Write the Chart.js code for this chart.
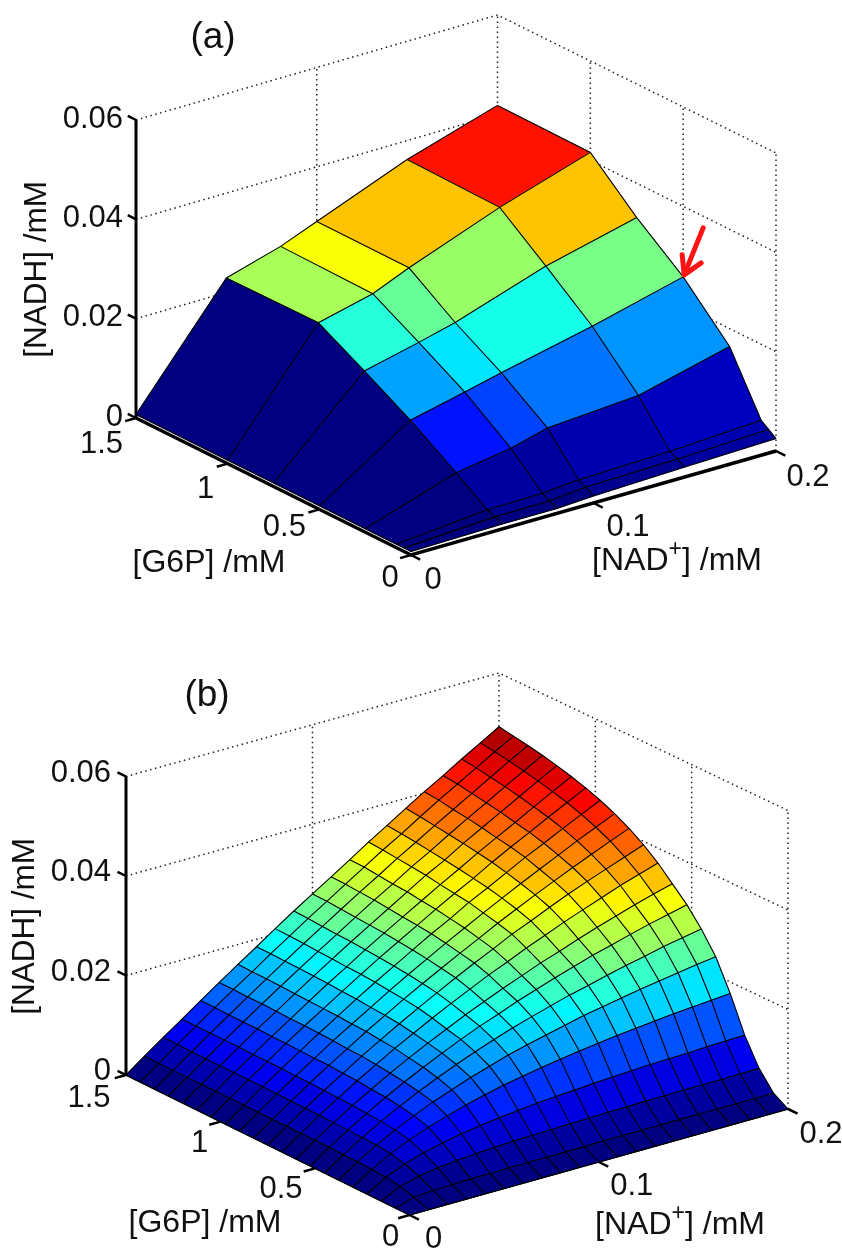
<!DOCTYPE html>
<html>
<head>
<meta charset="utf-8">
<title>NADH surfaces</title>
<script src="https://cdn.jsdelivr.net/npm/chart.js@4/dist/chart.umd.min.js"></script>
<style>
  body { margin:0; background:#fff; }
  canvas { display:block; }
</style>
</head>
<body>
<canvas id="panelA" width="842" height="625"></canvas>
<canvas id="panelB" width="842" height="624"></canvas>
<script>
const zTicks = [0, 0.02, 0.04, 0.06];
const g6pTicks = [0, 0.5, 1, 1.5];
const nadTicks = [0, 0.1, 0.2];

// panel (a): measured grid
const g6pA = [0, 0.04, 0.08, 0.25, 0.5, 0.75, 1, 1.5];
const nadA = [0, 0.05, 0.08, 0.1, 0.15, 0.2];
const nadhA = [
  [0.0007, 0.0010, 0.0010, 0.0014, 0.0020, 0.0025],
  [0.0007, 0.0017, 0.0018, 0.0025, 0.0029, 0.0036],
  [0.0007, 0.0024, 0.0026, 0.0032, 0.0037, 0.0047],
  [0.0007, 0.0067, 0.0085, 0.0105, 0.0118, 0.0164],
  [0.0007, 0.0127, 0.0152, 0.0170, 0.0211, 0.0258],
  [0.0007, 0.0180, 0.0206, 0.0225, 0.0286, 0.0331],
  [0.0007, 0.0231, 0.0258, 0.0289, 0.0358, 0.0416],
  [0.0007, 0.0229, 0.0261, 0.0290, 0.0362, 0.0418]
];

// panel (b): fine grid
const g6pB = [0, 0.075, 0.15, 0.225, 0.3, 0.375, 0.45, 0.525, 0.6, 0.675, 0.75, 0.825, 0.9, 0.975, 1.05, 1.125, 1.2, 1.275, 1.35, 1.425, 1.5];
const nadB = [0, 0.01, 0.02, 0.03, 0.04, 0.05, 0.06, 0.07, 0.08, 0.09, 0.1, 0.11, 0.12, 0.13, 0.14, 0.15, 0.16, 0.17, 0.18, 0.19, 0.2];
const nadhB = [
  [0,0,0,0,0,0,0,0,0,0,0,0,0,0,0,0,0,0,0,0,0],
  [0,.0011,.0014,.0015,.0016,.0016,.0017,.0017,.0017,.0017,.0017,.0018,.0018,.0018,.0018,.0018,.0018,.0018,.0018,.0018,.0018],
  [0,.0019,.0029,.0035,.0039,.0042,.0044,.0046,.0047,.0048,.0049,.0050,.0051,.0051,.0052,.0052,.0053,.0053,.0053,.0054,.0054],
  [0,.0023,.0039,.0051,.0060,.0068,.0074,.0079,.0083,.0087,.0090,.0092,.0095,.0097,.0099,.0101,.0102,.0103,.0105,.0106,.0107],
  [0,.0025,.0046,.0063,.0078,.0090,.0101,.0111,.0120,.0127,.0134,.0140,.0146,.0151,.0156,.0160,.0164,.0168,.0171,.0174,.0177],
  [0,.0026,.0049,.0069,.0087,.0104,.0118,.0132,.0144,.0156,.0166,.0175,.0184,.0193,.0200,.0207,.0214,.0220,.0226,.0232,.0237],
  [0,.0026,.0050,.0072,.0092,.0111,.0128,.0144,.0159,.0173,.0186,.0198,.0209,.0220,.0229,.0239,.0248,.0256,.0265,.0272,.0279],
  [0,.0027,.0051,.0074,.0096,.0116,.0135,.0153,.0170,.0186,.0200,.0215,.0228,.0241,.0253,.0265,.0275,.0286,.0296,.0305,.0314],
  [0,.0027,.0052,.0076,.0098,.0120,.0140,.0159,.0177,.0195,.0211,.0227,.0242,.0257,.0270,.0284,.0297,.0309,.0321,.0332,.0342],
  [0,.0027,.0053,.0077,.0101,.0123,.0145,.0165,.0185,.0204,.0222,.0240,.0256,.0273,.0288,.0304,.0318,.0332,.0346,.0358,.0370],
  [0,.0027,.0053,.0078,.0102,.0126,.0148,.0170,.0191,.0211,.0231,.0250,.0268,.0287,.0303,.0320,.0336,.0351,.0365,.0379,.0393],
  [0,.0027,.0053,.0079,.0104,.0127,.0151,.0173,.0195,.0216,.0236,.0256,.0275,.0295,.0313,.0331,.0348,.0365,.0381,.0397,.0412],
  [0,.0027,.0054,.0079,.0104,.0129,.0152,.0175,.0198,.0220,.0241,.0262,.0282,.0302,.0321,.0340,.0358,.0376,.0394,.0411,.0428],
  [0,.0027,.0054,.0080,.0105,.0130,.0154,.0178,.0201,.0223,.0245,.0267,.0287,.0309,.0328,.0348,.0368,.0386,.0405,.0423,.0441],
  [0,.0027,.0054,.0080,.0106,.0131,.0155,.0179,.0203,.0226,.0248,.0270,.0292,.0313,.0333,.0355,.0375,.0394,.0414,.0433,.0452],
  [0,.0027,.0054,.0080,.0106,.0131,.0156,.0181,.0204,.0228,.0251,.0273,.0295,.0317,.0338,.0360,.0380,.0400,.0421,.0441,.0461],
  [0,.0027,.0054,.0081,.0107,.0132,.0157,.0182,.0206,.0230,.0253,.0276,.0299,.0322,.0342,.0365,.0386,.0407,.0428,.0449,.0469],
  [0,.0027,.0054,.0081,.0107,.0133,.0158,.0183,.0207,.0231,.0255,.0279,.0301,.0325,.0346,.0369,.0391,.0412,.0434,.0455,.0476],
  [0,.0027,.0054,.0081,.0107,.0133,.0159,.0184,.0209,.0233,.0257,.0281,.0304,.0328,.0350,.0373,.0395,.0417,.0439,.0461,.0482],
  [0,.0027,.0055,.0081,.0108,.0134,.0159,.0185,.0210,.0235,.0259,.0283,.0307,.0331,.0353,.0377,.0400,.0422,.0444,.0466,.0487],
  [0,.0028,.0055,.0081,.0108,.0134,.0160,.0185,.0211,.0236,.0260,.0284,.0308,.0333,.0356,.0380,.0403,.0425,.0448,.0470,.0492]
];

const g6pMax = 1.5, nadMax = 0.2, zMax = 0.06;
const font = '"Liberation Sans", Arial, sans-serif';

function clamp(v) { return Math.max(0, Math.min(1, v)); }
// matlab jet, 64 steps
function jet(t) {
  t = Math.min(63, Math.floor(clamp(t) * 64)) / 63;
  let r = clamp(1.5 - Math.abs(4*t - 3));
  let g = clamp(1.5 - Math.abs(4*t - 2));
  let b = clamp(1.5 - Math.abs(4*t - 1));
  return `rgb(${Math.round(r*255)},${Math.round(g*255)},${Math.round(b*255)})`;
}

// floor corners of the box on screen, F = origin, L = max G6P, R = max NAD, B = both
function makeProject(p) {
  return (g, n, z) => {
    let u = g / g6pMax, v = n / nadMax;
    let c = (k) => p.F[k] + u*(p.L[k]-p.F[k]) + v*(p.R[k]-p.F[k]) + u*v*(p.B[k]+p.F[k]-p.L[k]-p.R[k]);
    return { x: c(0), y: c(1) - z / zMax * p.height };
  };
}

function lineSet(pts, color, width, extra) {
  return Object.assign({ data: pts, showLine: true, pointRadius: 0, borderColor: color, borderWidth: width, tension: 0, fill: false }, extra || {});
}

function buildDatasets(p, g6p, nad, nadh) {
  const P = makeProject(p);
  const back = [];  // painted first
  const dot = { borderDash: [1.5, 3.5] };
  const dotColor = "#222";

  // dotted walls
  zTicks.forEach(z => {
    if (z > 0) back.push(lineSet([P(g6pMax,0,z), P(g6pMax,nadMax,z), P(0,nadMax,z)], dotColor, 1.5, dot));
  });
  back.push(lineSet([P(g6pMax,nadMax,0), P(g6pMax,nadMax,zMax)], dotColor, 1.5, dot));
  back.push(lineSet([P(0,nadMax,0), P(0,nadMax,zMax)], dotColor, 1.5, dot));
  back.push(lineSet([P(g6pMax,0.1,0), P(g6pMax,0.1,zMax)], dotColor, 1.5, dot));
  [0.5, 1].forEach(g => back.push(lineSet([P(g,nadMax,0), P(g,nadMax,zMax)], dotColor, 1.5, dot)));

  // solid axes and ticks
  back.push(lineSet([P(g6pMax,0,0), P(g6pMax,0,zMax)], "#000", 3));
  back.push(lineSet([P(g6pMax,0,0), P(0,0,0), P(0,nadMax,0)], "#000", p.axisWidth));
  zTicks.forEach(z => back.push(lineSet([P(g6pMax,0,z), P(g6pMax+0.045,0,z)], "#000", 2.5)));
  g6pTicks.forEach(g => back.push(lineSet([P(g,0,0), P(g,-0.006,0)], "#000", 2.5)));
  nadTicks.forEach(n => back.push(lineSet([P(0,n,0), P(-0.05,n,0)], "#000", 2.5)));

  // surface cells, far corner first, coloured from the low corner like flat shading
  let top = -Infinity, low = Infinity;
  nadh.forEach(r => r.forEach(z => { top = Math.max(top, z); low = Math.min(low, z); }));
  let cells = [];
  for (let i = 0; i < g6p.length-1; i++) {
    for (let j = 0; j < nad.length-1; j++) {
      let pts = [P(g6p[i],nad[j],nadh[i][j]), P(g6p[i+1],nad[j],nadh[i+1][j]), P(g6p[i+1],nad[j+1],nadh[i+1][j+1]), P(g6p[i],nad[j+1],nadh[i][j+1])];
      pts.push(pts[0]);
      let color = jet((nadh[i][j]-low)/(top-low));
      cells.push({ key: i+j, set: lineSet(pts, color, 0.5, { fill: "shape", backgroundColor: color }) });
    }
  }
  cells.sort((a, b) => b.key - a.key);
  cells.forEach(c => back.push(c.set));

  // mesh on top of the fills so no cell cuts its neighbour's edge
  g6p.forEach((g, i) => back.push(lineSet(nad.map((n, j) => P(g, n, nadh[i][j])), "#000", 1.1)));
  nad.forEach((n, j) => back.push(lineSet(g6p.map((g, i) => P(g, n, nadh[i][j])), "#000", 1.1)));

  if (p.arrowAt) {
    let tip = P(p.arrowAt[0], p.arrowAt[1], p.arrowAt[2]);
    let red = { borderCapStyle: "round", borderJoinStyle: "round" };
    let off = (dx, dy) => ({ x: tip.x+dx, y: tip.y+dy });
    back.push(lineSet([off(20,-49), off(1,-2)], "#ff1414", 5, red));
    back.push(lineSet([off(-1,-22), off(1,-2), off(18,-14)], "#ff1414", 5, red));
  }
  // chart.js paints the first dataset last
  return back.reverse();
}

const textPlugin = {
  id: "text3d",
  afterDraw(chart) {
    const p = chart.options.plugins.text3d;
    const P = makeProject(p);
    const ctx = chart.ctx;
    const X = chart.scales.x, Y = chart.scales.y;
    const put = (str, pt, dx, dy, align, size) => {
      ctx.font = `${size || p.tickSize}px ${font}`;
      ctx.textAlign = align || "center";
      ctx.textBaseline = "middle";
      ctx.fillText(str, X.getPixelForValue(pt.x)+dx, Y.getPixelForValue(pt.y)+dy);
    };
    ctx.save();
    ctx.fillStyle = "#111";
    zTicks.forEach(z => put(String(z), P(g6pMax,0,z), p.zLabelDx, p.zLabelDy, "right"));
    g6pTicks.forEach((g, i) => put(String(g), P(g,0,0), p.g6pOff[i][0], p.g6pOff[i][1]));
    nadTicks.forEach((n, i) => put(String(n), P(0,n,0), p.nadOff[i][0], p.nadOff[i][1]));
    put("[G6P] /mM", {x:p.g6pTitle[0], y:p.g6pTitle[1]}, 0, 0, "center", p.titleSize);

    // NAD title with a raised plus
    let size = p.titleSize;
    ctx.font = `${size}px ${font}`;
    let w1 = ctx.measureText("[NAD").width, w3 = ctx.measureText("] /mM").width;
    ctx.font = `${size*0.72}px ${font}`;
    let w2 = ctx.measureText("+").width;
    let x0 = p.nadTitle[0] - (w1+w2+w3)/2, y0 = p.nadTitle[1];
    put("[NAD", {x:x0, y:y0}, 0, 0, "left", size);
    put("+", {x:x0+w1, y:y0}, 0, -11, "left", size*0.72);
    put("] /mM", {x:x0+w1+w2, y:y0}, 0, 0, "left", size);

    put(p.name, {x:p.namePos[0], y:p.namePos[1]}, 0, 0, "center", p.nameSize);

    ctx.translate(p.zTitle[0], p.zTitle[1]);
    ctx.rotate(-Math.PI/2);
    ctx.font = `31.5px ${font}`;
    ctx.textAlign = "center";
    ctx.fillText("[NADH] /mM", 0, 0);
    ctx.restore();
  }
};

function drawPanel(id, p, g6p, nad, nadh) {
  const canvas = document.getElementById(id);
  return new Chart(canvas, {
    type: "scatter",
    data: { datasets: buildDatasets(p, g6p, nad, nadh) },
    options: {
      responsive: false,
      animation: false,
      layout: { padding: 0 },
      scales: {
        x: { type: "linear", min: 0, max: canvas.width, display: false },
        y: { type: "linear", min: 0, max: canvas.height, reverse: true, display: false }
      },
      plugins: { legend: { display: false }, tooltip: { enabled: false }, text3d: p }
    },
    plugins: [textPlugin]
  });
}

drawPanel("panelA", {
  F: [411, 555], L: [136, 418], R: [776, 451], B: [497.5, 313], height: 298, axisWidth: 3.5,
  arrowAt: [0.5, 0.2, 0.0258],
  tickSize: 31, titleSize: 32, nameSize: 37, zLabelDx: -13, zLabelDy: -1,
  g6pOff: [[-21,23],[-35,18],[-22,26],[-34.5,26]],
  nadOff: [[22,25],[34.5,24],[32,26]],
  g6pTitle: [209,563], nadTitle: [677,561], zTitle: [37,269.5], name: "(a)", namePos: [213,38]
}, g6pA, nadA, nadhA);

drawPanel("panelB", {
  F: [409.5, 590], L: [126, 450], R: [788, 484], B: [499, 346.5], height: 298.5, axisWidth: 1.5,
  tickSize: 31, titleSize: 32, nameSize: 37, zLabelDx: -15, zLabelDy: -3.5,
  g6pOff: [[-19,22],[-34,21],[-21,22],[-37,23]],
  nadOff: [[24,24],[33,24],[33,25]],
  g6pTitle: [205,598], nadTitle: [680,600], zTitle: [25,301.5], name: "(b)", namePos: [207,71]
}, g6pB, nadB, nadhB);
</script>
</body>
</html>
